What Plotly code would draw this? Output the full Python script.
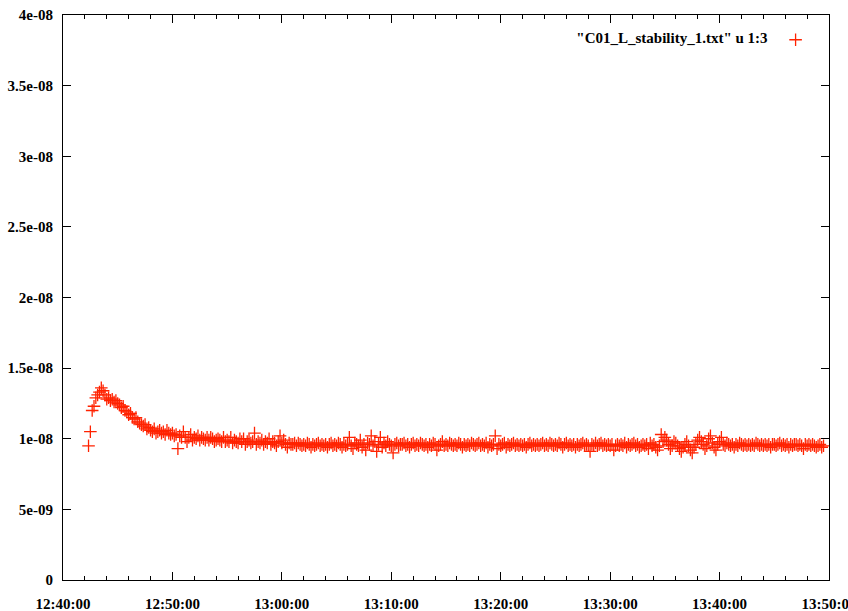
import pandas as pd
import plotly.graph_objects as go

# Measurement start and sampling interval (10 s)
start_time = "2012-01-01 12:42:20"
sample_seconds = 10

# Column 3 values, in units of 1e-9
values_e9 = [
    9.5, 10.5, 12.0, 12.3,
    12.9, 13.1, 13.3, 13.6, 13.4, 13.1,
    12.8, 12.9, 12.7, 12.8, 12.6, 12.7,
    12.5, 12.4, 12.2, 12.3, 12.0, 11.9,
    11.7, 11.8, 11.5, 11.4, 11.5, 11.2,
    11.1, 11.0, 10.9, 11.0, 10.7, 10.8,
    10.6, 10.5, 10.7, 10.4, 10.5, 10.6,
    10.4, 10.5, 10.3, 10.6, 10.4, 10.3,
    10.4, 10.2, 10.3, 9.3, 10.2, 10.1,
    10.5, 10.1, 9.8, 10.1, 10.3, 9.9,
    10.1, 10.0, 10.2, 9.9, 10.1, 10.0,
    9.9, 10.1, 9.9, 10.1, 10.0, 9.8,
    9.9, 10.0, 9.9, 9.8, 10.1, 9.8,
    9.9, 9.8, 10.1, 9.7, 9.9, 9.8,
    9.7, 10.0, 9.8, 10.0, 9.6, 9.8,
    9.9, 9.7, 9.8, 10.4, 9.6, 9.8,
    9.7, 9.9, 9.6, 9.8, 9.7, 10.0,
    9.6, 9.8, 9.7, 9.5, 9.8, 10.2,
    9.7, 9.9, 9.6, 9.4, 9.7, 9.6,
    9.6, 9.7, 9.5, 9.7, 9.6, 9.5,
    9.6, 9.5, 9.7, 9.6, 9.4, 9.6,
    9.5, 9.6, 9.7, 9.5, 9.6, 9.5,
    9.6, 9.4, 9.6, 9.7, 9.5, 9.6,
    9.5, 9.7, 9.6, 9.4, 9.6, 9.5,
    9.6, 10.1, 9.5, 9.3, 9.7, 9.6,
    9.5, 9.9, 9.4, 9.6, 9.2, 9.7,
    9.6, 10.2, 9.5, 9.8, 9.1, 9.6,
    10.1, 9.4, 9.7, 9.5, 9.8, 9.6,
    9.5, 9.0, 9.6, 9.7, 9.5, 9.6,
    9.6, 9.7, 9.5, 9.6, 9.4, 9.6,
    9.7, 9.5, 9.6, 9.5, 9.7, 9.6,
    9.5, 9.6, 9.4, 9.6, 9.5, 9.7,
    9.6, 9.2, 9.5, 9.6, 9.8, 9.5,
    9.6, 9.5, 9.7, 9.6, 9.5, 9.6,
    9.5, 9.7, 9.6, 9.4, 9.6, 9.5,
    9.6, 9.5, 9.7, 9.6, 9.5, 9.6,
    9.7, 9.5, 9.6, 9.5, 9.7, 9.4,
    9.6, 9.5, 9.6, 10.2, 9.3, 9.6,
    9.5, 9.6, 9.7, 9.4, 9.6, 9.5,
    9.6, 9.7, 9.5, 9.6, 9.5, 9.6,
    9.5, 9.6, 9.4, 9.6, 9.7, 9.5,
    9.6, 9.5, 9.6, 9.5, 9.6, 9.7,
    9.5, 9.6, 9.5, 9.7, 9.6, 9.5,
    9.6, 9.5, 9.7, 9.6, 9.4, 9.6,
    9.7, 9.5, 9.6, 9.5, 9.6, 9.4,
    9.6, 9.5, 9.6, 9.7, 9.5, 9.6,
    9.5, 9.1, 9.6, 9.5, 9.7, 9.5,
    9.6, 9.7, 9.5, 9.6, 9.5, 9.6,
    9.5, 9.6, 9.2, 9.5, 9.6, 9.5,
    9.6, 9.5, 9.7, 9.4, 9.6, 9.5,
    9.6, 9.7, 9.5, 9.6, 9.4, 9.5,
    9.6, 9.5, 9.6, 9.3, 9.7, 9.5,
    9.6, 9.4, 9.2, 9.5, 10.3, 9.8,
    10.1, 9.9, 9.6, 9.3, 9.5, 9.8,
    9.7, 9.5, 9.3, 9.1, 9.4, 9.6,
    9.8, 9.5, 9.2, 9.0, 9.4, 9.6,
    9.9, 10.1, 9.8, 9.6, 9.3, 9.5,
    10.0, 10.2, 9.7, 9.4, 9.2, 9.6,
    9.8, 10.1, 9.6, 9.5, 9.7, 9.6,
    9.5, 9.6, 9.4, 9.6, 9.5, 9.7,
    9.6, 9.5, 9.6, 9.5, 9.6, 9.5,
    9.6, 9.5, 9.7, 9.6, 9.5, 9.6,
    9.5, 9.6, 9.5, 9.6, 9.4, 9.6,
    9.6, 9.5, 9.6, 9.7, 9.5, 9.6,
    9.5, 9.6, 9.4, 9.6, 9.5, 9.6,
    9.6, 9.5, 9.6, 9.5, 9.3, 9.6,
    9.5, 9.6, 9.5, 9.6, 9.5, 9.4,
    9.5, 9.6, 9.4, 9.5,
]

y_tick_vals = [0, 5e-9, 1e-8, 1.5e-8, 2e-8, 2.5e-8, 3e-8, 3.5e-8, 4e-8]
y_tick_text = ["0", "5e-09", "1e-08", "1.5e-08", "2e-08", "2.5e-08", "3e-08", "3.5e-08", "4e-08"]
x_range = ["2012-01-01 12:40:00", "2012-01-01 13:50:00"]
legend_label = '"C01_L_stability_1.txt" u 1:3'

times = pd.date_range(start=start_time, periods=len(values_e9), freq=f"{sample_seconds}s")
values = [v * 1e-9 for v in values_e9]

text_font = dict(family="Liberation Serif", size=15, color="black", weight="bold")

fig = go.Figure()
fig.add_trace(go.Scatter(
    x=times, y=values, mode="markers", name="",
    marker=dict(symbol="cross-thin", size=9, color="#ff2200",
                line=dict(color="#ff2200", width=1.3)),
    showlegend=True,
))

fig.update_layout(
    width=848, height=611,
    margin=dict(l=63, r=19, t=15, b=31),
    paper_bgcolor="white", plot_bgcolor="white",
    font=text_font,
    showlegend=True,
    legend=dict(
        x=0.99, y=0.985, xanchor="right", yanchor="top",
        bgcolor="rgba(0,0,0,0)", borderwidth=0,
        title=dict(text=legend_label, side="left", font=text_font),
        itemwidth=30,
        font=text_font,
    ),
    xaxis=dict(
        type="date", range=x_range, dtick=600000, tick0="2012-01-01 12:40:00",
        tickformat="%H:%M:%S", automargin=False, ticklabeloverflow="allow",
        showgrid=False, zeroline=False,
        showline=True, linecolor="black", linewidth=1, mirror="ticks",
        ticks="inside", ticklen=8, tickcolor="black", tickwidth=1,
        ticklabelstandoff=10,
        minor=dict(dtick=120000, ticks="inside", ticklen=4, tickcolor="black", showgrid=False),
        tickfont=text_font,
    ),
    yaxis=dict(
        range=[0, 4e-8], tickvals=y_tick_vals, ticktext=y_tick_text,
        automargin=False,
        showgrid=False, zeroline=False,
        showline=True, linecolor="black", linewidth=1, mirror="ticks",
        ticks="inside", ticklen=8, tickcolor="black", tickwidth=1,
        ticklabelstandoff=6,
        tickfont=text_font,
    ),
)

fig.write_html("out.html", config={"displayModeBar": False},
               post_script="document.body.style.margin='0';")
